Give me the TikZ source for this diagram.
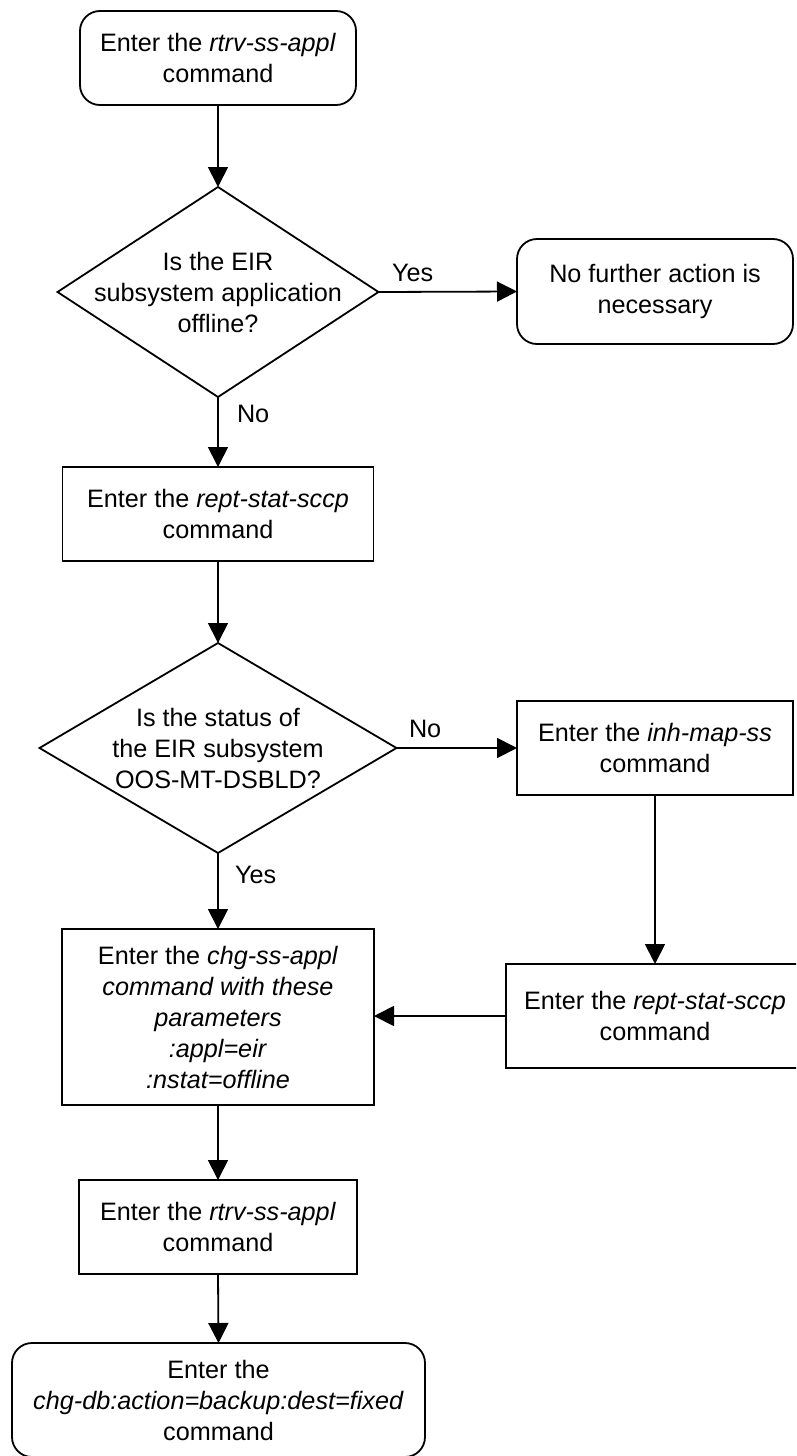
\documentclass[tikz,border=0pt]{standalone}
\usepackage{fontspec}
\setmainfont{Liberation Sans}
\usetikzlibrary{shapes.geometric,arrows.meta}

\begin{document}
\begin{tikzpicture}[x=1pt,y=-1pt,
  every node/.style={font=\fontsize{25.2}{31}\selectfont, inner sep=0pt, outer sep=0pt},
  box/.style={draw, line width=1.8pt, rectangle, align=center},
  termbox/.style={box, rounded corners=20pt},
  decision/.style={draw, line width=1.8pt, diamond},
  decisiontext/.style={align=center},
  lbl/.style={anchor=west},
  flow/.style={draw, line width=1.8pt, -{Triangle[length=20pt,width=20pt]}}
]
\clip (0,0) rectangle (796,1456);
\fill[white] (0,0) rectangle (796,1456);

% main column
\node[termbox, minimum width=276pt, minimum height=94pt] (start) at (218,58)
  {Enter the \textit{rtrv-ss-appl}\\command};

\node[decision, minimum width=321pt, minimum height=210pt] (d1) at (218,292) {};
\node[decisiontext] (d1t) at (d1.center)
  {Is the EIR\\subsystem application\\offline?};

\node[termbox, minimum width=276pt, minimum height=105pt] (done) at (655,291.5)
  {No further action is\\necessary};

\node[box, minimum width=311pt, minimum height=94pt] (rept1) at (218,514)
  {Enter the \textit{rept-stat-sccp}\\command};

\node[decision, minimum width=357pt, minimum height=210pt] (d2) at (218,748) {};
\node[decisiontext] (d2t) at (d2.center)
  {Is the status of\\the EIR subsystem\\OOS-MT-DSBLD?};

\node[box, minimum width=276pt, minimum height=94pt] (inh) at (655,748)
  {Enter the \textit{inh-map-ss}\\command};

\node[box, minimum width=298pt, minimum height=104pt] (rept2) at (655,1016)
  {Enter the \textit{rept-stat-sccp}\\command};

\node[box, minimum width=312pt, minimum height=176pt] (chg) at (218,1017)
  {Enter the \textit{chg-ss-appl}\\\textit{command with these}\\\textit{parameters}\\\textit{:appl=eir}\\\textit{:nstat=offline}};

\node[box, minimum width=278pt, minimum height=94pt] (rtrv) at (218,1227)
  {Enter the \textit{rtrv-ss-appl}\\command};

\node[termbox, minimum width=413pt, minimum height=114pt] (finish) at (218.5,1400)
  {Enter the\\\textit{chg-db:action=backup:dest=fixed}\\command};

% connectors
\path[flow] (start.south) -- (d1.north);
\path[flow] (d1.east) -- (done.west);
\node[lbl] (yes1) at (392,273) {Yes};
\path[flow] (d1.south) -- (rept1.north);
\node[lbl] (no1) at (237,414) {No};
\path[flow] (rept1.south) -- (d2.north);
\path[flow] (d2.east) -- (inh.west);
\node[lbl] (no2) at (409,729) {No};
\path[flow] (d2.south) -- (chg.north);
\node[lbl] (yes2) at (235,875) {Yes};
\path[flow] (inh.south) -- (rept2.north);
\path[flow] (rept2.west) -- (rept2.west -| chg.east);
\path[flow] (chg.south) -- (rtrv.north);
\path[flow] (rtrv.south) -- (finish.north);
\end{tikzpicture}
\end{document}
